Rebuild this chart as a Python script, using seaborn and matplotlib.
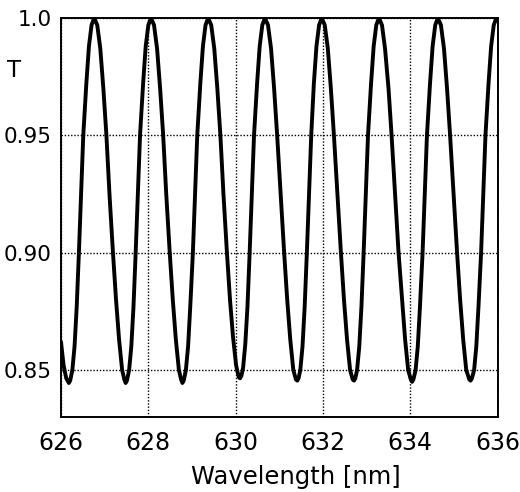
import matplotlib
matplotlib.use("Agg")
import matplotlib.pyplot as plt
import seaborn as sns
import pandas as pd

# wavelength [nm] and transmission, cycle by cycle
wavelength = [
    626.00, 626.06, 626.12, 626.18,
    626.21, 626.26, 626.31, 626.36, 626.41, 626.46, 626.51, 626.58, 626.64, 626.70, 626.76,
    626.83, 626.90, 626.97, 627.04, 627.11, 627.19, 627.26, 627.33, 627.40, 627.45, 627.48,
    627.51, 627.56, 627.61, 627.66, 627.71, 627.76, 627.81, 627.88, 627.94, 628.00, 628.06,
    628.13, 628.20, 628.27, 628.34, 628.41, 628.49, 628.56, 628.63, 628.70, 628.75, 628.78,
    628.81, 628.86, 628.91, 628.96, 629.02, 629.07, 629.12, 629.19, 629.25, 629.31, 629.37,
    629.44, 629.51, 629.58, 629.65, 629.72, 629.80, 629.87, 629.94, 630.01, 630.07, 630.10,
    630.13, 630.17, 630.22, 630.27, 630.32, 630.37, 630.42, 630.49, 630.55, 630.61, 630.67,
    630.74, 630.81, 630.88, 630.95, 631.03, 631.11, 631.18, 631.25, 631.32, 631.38, 631.41,
    631.44, 631.48, 631.53, 631.58, 631.63, 631.68, 631.73, 631.79, 631.85, 631.91, 631.97,
    632.04, 632.11, 632.18, 632.25, 632.33, 632.41, 632.48, 632.55, 632.62, 632.68, 632.71,
    632.74, 632.78, 632.83, 632.88, 632.93, 632.98, 633.03, 633.10, 633.16, 633.22, 633.28,
    633.35, 633.42, 633.50, 633.57, 633.65, 633.73, 633.81, 633.88, 633.95, 634.01, 634.04,
    634.07, 634.12, 634.17, 634.22, 634.28, 634.33, 634.38, 634.45, 634.51, 634.57, 634.63,
    634.70, 634.77, 634.84, 634.91, 634.99, 635.07, 635.14, 635.21, 635.28, 635.35, 635.38,
    635.41, 635.46, 635.51, 635.56, 635.62, 635.67, 635.72, 635.79, 635.85, 635.91, 635.97,
    636.00,
]
transmission = [
    0.862, 0.852, 0.8465, 0.8445,
    0.8455, 0.850, 0.860, 0.877, 0.900, 0.925, 0.950, 0.972, 0.988, 0.997, 1.000,
    0.997, 0.987, 0.970, 0.950, 0.925, 0.900, 0.880, 0.863, 0.850, 0.846, 0.8445,
    0.8455, 0.850, 0.860, 0.877, 0.900, 0.925, 0.950, 0.972, 0.988, 0.997, 1.000,
    0.997, 0.987, 0.970, 0.950, 0.925, 0.900, 0.880, 0.863, 0.850, 0.846, 0.8445,
    0.8455, 0.850, 0.860, 0.877, 0.900, 0.925, 0.950, 0.972, 0.988, 0.997, 1.000,
    0.997, 0.987, 0.970, 0.950, 0.925, 0.900, 0.880, 0.864, 0.852, 0.847, 0.8465,
    0.8475, 0.851, 0.861, 0.877, 0.900, 0.925, 0.950, 0.972, 0.988, 0.997, 1.000,
    0.997, 0.987, 0.970, 0.950, 0.925, 0.900, 0.880, 0.863, 0.850, 0.846, 0.8455,
    0.8465, 0.850, 0.860, 0.877, 0.900, 0.925, 0.950, 0.972, 0.988, 0.997, 1.000,
    0.997, 0.987, 0.970, 0.950, 0.925, 0.900, 0.880, 0.863, 0.850, 0.846, 0.8455,
    0.8465, 0.850, 0.860, 0.877, 0.900, 0.925, 0.950, 0.972, 0.988, 0.997, 1.000,
    0.997, 0.987, 0.970, 0.950, 0.925, 0.900, 0.880, 0.863, 0.850, 0.846, 0.845,
    0.846, 0.850, 0.860, 0.877, 0.900, 0.925, 0.950, 0.972, 0.988, 0.997, 1.000,
    0.997, 0.987, 0.970, 0.950, 0.925, 0.900, 0.880, 0.863, 0.850, 0.846, 0.8455,
    0.8465, 0.850, 0.860, 0.877, 0.900, 0.925, 0.950, 0.972, 0.988, 0.997, 1.000,
    0.999,
]

x_ticks = [626, 628, 630, 632, 634, 636]
y_ticks = [0.85, 0.90, 0.95, 1.0]
y_tick_labels = ["0.85", "0.90", "0.95", "1.0"]

sns.set_style("white")
plt.rcParams['font.family'] = ['DejaVu Sans']
plt.rcParams['text.color'] = 'black'

fig = plt.figure(figsize=(5.2, 4.92), dpi=100)
ax = fig.add_axes([0.1173, 0.1524, 0.8398, 0.811])

df = pd.DataFrame({"wavelength": wavelength, "T": transmission})
sns.lineplot(data=df, x="wavelength", y="T", color="black", linewidth=2.8,
             sort=False, estimator=None, ax=ax)

ax.set_xlim(626, 636)
ax.set_ylim(0.83, 1.0)
ax.set_xticks(x_ticks)
ax.set_xticklabels([str(t) for t in x_ticks])
ax.set_yticks(y_ticks)
ax.set_yticklabels(y_tick_labels)

ax.grid(True, color="black", linestyle=(0, (1, 1.3)), linewidth=1.0)
for s in ax.spines.values():
    s.set_color("black")
    s.set_linewidth(1.4)
    s.set_visible(True)

ax.tick_params(axis="x", length=0, pad=10, labelsize=17, colors="black")
ax.tick_params(axis="y", direction="out", length=6, width=1.2, pad=0.5,
               labelsize=15.5, colors="black")

ax.set_xlabel("")
ax.set_ylabel("T", rotation=0, fontsize=16.5, color="black")
ax.yaxis.set_label_coords(-0.108, 0.84)
fig.text(296 / 520, 1 - 477 / 492, "Wavelength [nm]", ha="center", va="center",
         fontsize=17.5, color="black")

fig.savefig("out.png", dpi=100)
